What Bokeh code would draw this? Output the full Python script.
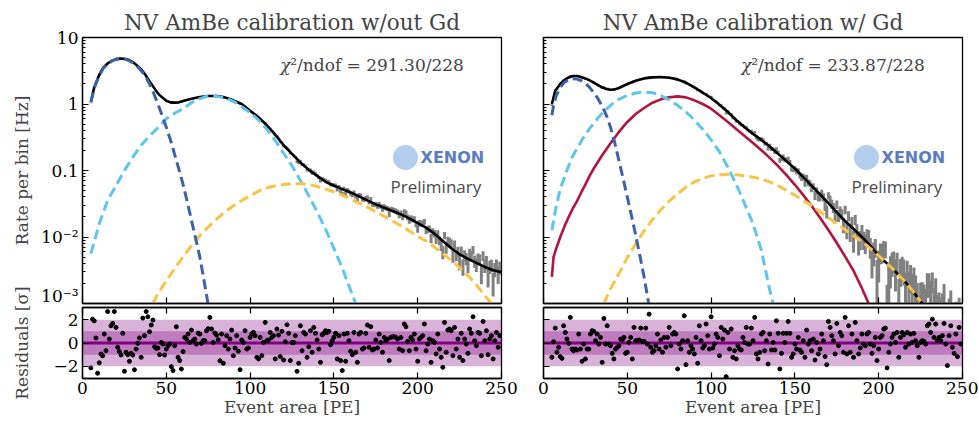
import numpy as np
from bokeh.plotting import figure
from bokeh.layouts import row, column
from bokeh.models import (Range1d, FixedTicker, LinearAxis, Label, BoxAnnotation, Span,
                          CustomJSTickFormatter)
from bokeh.embed import file_html
from bokeh.resources import INLINE

# ------------------------------------------------------------------ data
TITLES = ["NV AmBe calibration w/out Gd", "NV AmBe calibration w/ Gd"]
CHI2 = ["291.30/228", "233.87/228"]
EXPOSURE = [5000.0, 1200.0]   # s, sets the size of the data error bars

# ---- left panel (w/out Gd): curves read as log10(rate [Hz])
L_TOTAL_X = [5, 7, 10, 12.5, 15, 17.5, 20, 22.5, 25, 27.5, 30, 32.5, 35, 37.5, 40, 42.5, 45, 47.5, 50,
             52.5, 55, 57.5, 60, 65, 70, 75, 80, 85, 90, 95, 100, 105, 110, 115, 120, 125, 130, 135,
             140, 145, 150, 155, 160, 165, 170, 175, 180, 185, 190, 195, 200, 205, 210, 215, 220,
             225, 230, 235, 240, 245, 250]
L_TOTAL_LOG = [0.03, 0.25, 0.44, 0.55, 0.61, 0.65, 0.675, 0.685, 0.68, 0.665, 0.63, 0.58, 0.52, 0.44,
               0.34, 0.25, 0.16, 0.10, 0.05, 0.025, 0.02, 0.025, 0.045, 0.08, 0.105, 0.12, 0.12, 0.10,
               0.055, 0.0, -0.10, -0.20, -0.32, -0.46, -0.62, -0.75, -0.88, -0.99, -1.08, -1.17,
               -1.23, -1.28, -1.33, -1.39, -1.45, -1.51, -1.56, -1.61, -1.66, -1.72, -1.79, -1.86,
               -1.95, -2.06, -2.17, -2.26, -2.33, -2.39, -2.45, -2.50, -2.53]
L_DB_X = [5, 7, 10, 12.5, 15, 17.5, 20, 22.5, 25, 27.5, 30, 32.5, 35, 37.5, 40, 42.5, 45, 47.5, 50,
          52.5, 55, 57.5, 60, 62.5, 65, 67.5, 70, 72.5, 75]
L_DB_LOG = [0.03, 0.24, 0.43, 0.54, 0.60, 0.645, 0.67, 0.68, 0.675, 0.655, 0.62, 0.57, 0.50, 0.42,
            0.30, 0.16, 0.0, -0.17, -0.35, -0.54, -0.76, -0.98, -1.21, -1.47, -1.75, -2.02, -2.3,
            -2.65, -3.02]
L_LB_X = [5, 10, 15, 20, 25, 30, 35, 40, 45, 50, 55, 60, 65, 70, 75, 80, 85, 90, 95, 100, 105, 110,
          115, 120, 125, 130, 135, 140, 145, 150, 155, 160, 163]
L_LB_LOG = [-2.25, -1.80, -1.45, -1.23, -1.00, -0.80, -0.62, -0.48, -0.36, -0.22, -0.14, -0.07, 0.02,
            0.08, 0.12, 0.115, 0.09, 0.04, -0.04, -0.13, -0.24, -0.38, -0.55, -0.74, -0.93, -1.15,
            -1.38, -1.62, -1.88, -2.17, -2.47, -2.80, -3.0]
L_OR_X = [42, 45, 50, 55, 60, 65, 70, 75, 80, 85, 90, 95, 100, 105, 110, 115, 120, 125, 130, 135,
          140, 145, 150, 155, 160, 165, 170, 175, 180, 185, 190, 195, 200, 205, 210, 215, 220, 225,
          230, 235, 240, 244]
L_OR_LOG = [-3.0, -2.85, -2.66, -2.47, -2.30, -2.13, -1.98, -1.85, -1.73, -1.62, -1.53, -1.45, -1.38,
            -1.31, -1.26, -1.23, -1.21, -1.20, -1.20, -1.21, -1.24, -1.28, -1.32, -1.37, -1.43,
            -1.49, -1.55, -1.62, -1.69, -1.76, -1.83, -1.91, -1.99, -2.06, -2.15, -2.25, -2.35,
            -2.46, -2.58, -2.72, -2.88, -3.0]
# residuals [sigma], one per 1 PE bin starting at 5 PE
L_RES = [-2.14, 2.05, 1.9, 0.43, -2.6, -1.7, -0.94, -1.1, 0.77, -0.66,
         2.7, 0.34, 1.48, 1.68, 2.7, 1.34, -0.37, -0.74, -1.03, 0.83,
         -2.43, -0.8, -1.0, -1.57, -0.89, -1.03, -2.3, -0.52, -0.03, 0.43,
         -1.23, 2.14, 0.63, 2.7, 2.25, 0.97, 1.54, 1.97, -0.32, -0.46,
         -0.43, -1.0, 0.05, -0.09, -1.03, -0.52, -0.23, -0.09, -2.03, -2.37,
         -0.23, 1.4, -1.23, -1.51, -2.23, -0.74, 0.48, 0.34, 0.77, 0.05,
         1.11, 0.2, 0.34, -0.09, 0.85, 0.77, -0.03, 0.2, 0.2, 1.06,
         1.23, 2.2, 1.2, 0.05, 0.85, 0.68, 0.28, -1.52, 0.77, -1.74,
         -0.23, 0.63, -0.52, 0.34, 1.11, -1.09, -0.43, 0.63, -0.71, -2.29,
         0.26, 0.05, 1.06, -0.52, -0.43, 0.48, 0.77, 0.91, 0.63, -1.23,
         -1.37, 0.48, -1.09, 0.05, 1.77, 0.2, 0.26, 0.91, 0.48, 0.63,
         -1.37, 1.2, 0.68, -1.17, 1.0, -1.46, 0.11, 1.57, 0.83, -1.51,
         0.05, 0.05, 0.63, -2.43, -1.74, 1.48, -0.66, 0.91, 0.77, -1.23,
         -0.32, 1.06, -0.8, 1.34, 0.83, 0.26, -0.52, -1.66, 0.71, 0.83,
         1.06, 0.91, 1.0, -0.15, 0.2, 0.48, 0.83, -1.37, 0.63, -1.51,
         -2.37, 0.77, -1.57, 0.83, 0.2, -0.71, -1.0, 0.91, -0.8, -1.66,
         0.77, 0.91, -0.52, -0.43, 0.83, 1.54, -0.37, 1.4, -0.6, -0.52,
         0.26, -0.43, 0.77, 0.05, -0.8, 0.48, 0.2, 0.34, -1.51, 0.48,
         0.54, 0.54, 0.48, 0.34, -0.52, 0.48, -0.66, 1.63, 1.4, 0.14,
         -0.66, 0.48, 0.26, 0.77, -0.52, -1.57, 0.34, 0.48, 0.63, 1.63,
         -0.66, -0.09, 0.34, -1.66, 0.2, 0.05, -0.94, 0.77, -0.52, -1.23,
         -2.09, 1.77, -0.8, 1.11, 1.2, 1.06, -1.09, 1.34, -0.52, 0.34,
         -1.23, 0.83, -1.51, 0.34, -0.09, -0.89, 1.2, 0.83, 2.25, 0.2,
         -0.23, 0.91, 0.83, -1.09, 1.85, 0.2, 1.06, -1.0, 0.34, 0.63,
         -1.37, 0.2, 0.91, -0.37, 0.63]

# ---- right panel (w/ Gd)
R_TOTAL_X = [5, 7, 10, 12.5, 15, 17.5, 20, 22.5, 25, 27.5, 30, 32.5, 35, 37.5, 40, 42.5, 45, 47.5, 50,
             55, 60, 65, 70, 75, 80, 85, 90, 95, 100, 105, 110, 115, 120, 125, 130, 135, 140, 145,
             150, 155, 160, 165, 170, 175, 180, 185, 190, 195, 200, 205, 210, 215, 220, 225, 230,
             235, 240, 245, 250]
R_TOTAL_LOG = [0.0, 0.20, 0.30, 0.36, 0.40, 0.42, 0.42, 0.405, 0.385, 0.355, 0.32, 0.285, 0.25, 0.225,
               0.215, 0.22, 0.24, 0.27, 0.30, 0.35, 0.385, 0.40, 0.405, 0.395, 0.37, 0.32, 0.25,
               0.17, 0.09, -0.01, -0.12, -0.24, -0.35, -0.45, -0.54, -0.64, -0.75, -0.86, -0.97,
               -1.10, -1.23, -1.36, -1.49, -1.63, -1.76, -1.88, -2.0, -2.13, -2.28, -2.40, -2.52,
               -2.65, -2.80, -2.97, -3.12, -3.27, -3.42, -3.57, -3.72]
R_DB_X = [5, 6, 7.5, 10, 12.5, 15, 17.5, 20, 22.5, 25, 27.5, 30, 32.5, 35, 37.5, 40, 42.5, 45, 47.5,
          50, 52.5, 55, 57.5, 60, 62.5, 63]
R_DB_LOG = [-0.17, -0.02, 0.12, 0.25, 0.33, 0.36, 0.38, 0.375, 0.35, 0.31, 0.25, 0.17, 0.08, -0.03,
            -0.17, -0.35, -0.58, -0.85, -1.12, -1.40, -1.68, -1.97, -2.28, -2.6, -2.96, -3.05]
R_LB_X = [5, 7.5, 10, 12.5, 15, 17.5, 20, 22.5, 25, 27.5, 30, 32.5, 35, 37.5, 40, 42.5, 45, 47.5, 50,
          55, 60, 65, 70, 75, 80, 85, 90, 95, 100, 105, 110, 115, 120, 125, 130, 135, 137]
R_LB_LOG = [-1.90, -1.55, -1.28, -1.10, -0.93, -0.78, -0.67, -0.56, -0.46, -0.37, -0.29, -0.21, -0.14,
            -0.08, -0.02, 0.03, 0.07, 0.10, 0.13, 0.165, 0.18, 0.17, 0.125, 0.06, -0.02, -0.12,
            -0.24, -0.38, -0.54, -0.72, -0.95, -1.21, -1.50, -1.80, -2.2, -2.8, -3.0]
R_RED_X = [5, 6, 7.5, 10, 12.5, 15, 17.5, 20, 22.5, 25, 27.5, 30, 35, 40, 45, 50, 55, 60, 65, 70, 75,
           80, 85, 90, 95, 100, 105, 110, 115, 120, 125, 130, 135, 140, 145, 150, 155, 160, 165,
           170, 175, 180, 185, 190, 194]
R_RED_LOG = [-2.6, -2.3, -2.18, -2.0, -1.84, -1.70, -1.57, -1.46, -1.33, -1.21, -1.08, -0.97, -0.77,
             -0.59, -0.42, -0.27, -0.15, -0.06, 0.02, 0.07, 0.10, 0.115, 0.10, 0.055, 0.0, -0.07,
             -0.17, -0.27, -0.375, -0.48, -0.585, -0.695, -0.81, -0.935, -1.07, -1.215, -1.37,
             -1.535, -1.71, -1.895, -2.09, -2.295, -2.51, -2.77, -3.0]
R_OR_X = [36, 40, 45, 50, 55, 60, 65, 70, 75, 80, 85, 90, 95, 100, 105, 110, 115, 120, 125, 130, 135,
          140, 145, 150, 155, 160, 165, 170, 175, 180, 185, 190, 195, 200, 205, 210, 215, 220, 225]
R_OR_LOG = [-3.0, -2.78, -2.55, -2.31, -2.10, -1.91, -1.74, -1.59, -1.46, -1.35, -1.25, -1.17, -1.12,
            -1.08, -1.065, -1.06, -1.065, -1.08, -1.10, -1.13, -1.17, -1.23, -1.30, -1.37, -1.45,
            -1.53, -1.62, -1.71, -1.80, -1.89, -1.98, -2.07, -2.17, -2.28, -2.40, -2.52, -2.65,
            -2.80, -2.97]
R_RES = [-1.23, 0.11, 1.28, -0.8, -0.37, -1.17, -1.32, 1.48, 0.91, 0.34,
         -0.03, 2.2, -0.52, -0.66, -0.52, -0.6, 0.77, -0.52, -1.57, -0.09,
         -1.37, -0.52, -0.52, 0.77, 1.06, 1.0, 0.2, 0.77, -0.09, 0.48,
         -1.66, 2.11, -0.09, 1.48, -0.09, -0.23, -0.89, -1.37, -0.52, -0.37,
         -0.23, 0.34, 0.26, 0.48, -0.89, -0.8, 0.05, 0.48, -1.37, 1.34,
         0.2, 0.2, 0.26, 1.28, 0.14, 0.14, 1.28, -0.09, 2.48, -0.37,
         -0.8, -0.66, -0.23, 0.77, -0.52, 0.26, -0.8, 0.48, -0.37, 0.48,
         1.34, -0.23, 0.77, 0.91, 0.77, -2.23, -0.09, -0.52, 0.2, 2.34,
         -1.86, 0.2, -0.8, -0.23, -0.52, -0.94, 0.48, -1.74, 1.48, 0.2,
         -0.43, -0.23, 1.63, 0.63, -0.52, 2.25, -0.43, -0.09, 0.77, 0.48,
         -1.09, 1.34, 0.34, 1.11, -2.89, 0.91, -0.52, 1.2, -1.23, -0.66,
         -1.37, -0.23, -0.52, -0.6, 0.48, 0.05, 1.34, -0.09, -0.09, 1.28,
         0.2, 2.2, -0.94, -1.37, -0.8, 0.77, 0.91, -0.66, 0.2, -1.8,
         0.77, -0.6, 0.05, -0.6, 1.91, 0.83, -2.23, -0.89, 0.83, 0.05,
         0.83, 1.85, 0.83, -1.23, -0.94, -0.09, -0.52, 0.48, -0.6, -0.8,
         0.2, -1.23, 1.11, -0.09, 0.2, -0.66, 0.34, -1.46, 0.05, -0.94,
         -0.52, 0.77, 0.2, -1.17, -1.86, 1.85, 1.34, 0.63, 0.2, -0.94,
         1.68, -0.23, 0.91, 0.63, -0.8, 2.2, -0.94, 1.48, -0.8, 0.77,
         -1.23, 1.77, 0.2, -0.94, -0.43, 0.77, -0.09, -0.23, 0.77, 0.91,
         -0.09, -0.89, -0.23, 0.48, -1.51, -0.52, 0.48, 0.63, 1.2, 1.28,
         -2.14, -0.8, -0.09, 0.48, 0.77, 0.05, 0.91, -1.23, 0.48, 0.91,
         0.71, -0.37, 0.91, -0.09, 0.77, 0.05, 0.83, 0.2, -0.23, -1.23,
         0.05, 0.2, 0.14, -0.09, 1.48, 1.63, 0.91, 2.05, 0.48, 1.63,
         0.2, 0.48, 0.2, 0.63, 1.68, -0.09, -1.94, 0.63, 1.48, -0.37,
         -0.89, 0.77, -1.17, 1.34, -0.09]
RES_FIRST_BIN = 5   # PE

XTICKS = [0, 50, 100, 150, 200, 250]
YTICKS = [1e-3, 1e-2, 1e-1, 1, 10]
YTICK_LABELS = ["10\u207b\u00b3", "10\u207b\u00b2", "0.1", "1", "10"]
RTICKS = [-2, 0, 2]
RTICK_LABELS = ["\u22122", "0", "2"]

# ------------------------------------------------------------------ style
SERIF = "DejaVu Serif"
C_DB, C_LB, C_OR, C_RED = "#3d62ad", "#5ec5ee", "#f9c446", "#b5133d"
C_GREY = "#808080"
FRAME_W, MAIN_H, RES_H = 419, 266, 71
TOP_B = 37
GAP = 4
STRIP_W = 38
# borders: (left, right) for [left column, right column]; residual rows need room for "250"
MAIN_BORDERS = [(44, 2), (24, 2)]
RES_BORDERS = [(44, 18), (24, 16)]
MINOR = [m * 10.0 ** e for e in range(-3, 1) for m in range(2, 10)]


def overrides(ticks, labels):
    d = {}
    for t, l in zip(ticks, labels):
        d[t] = l
        d[str(t)] = l
    return d


def style_axis(ax, show_labels, minor=False):
    ax.major_tick_in = 6
    ax.major_tick_out = 0
    ax.minor_tick_in = 3 if minor else 0
    ax.minor_tick_out = 0
    ax.axis_line_color = "black"
    ax.axis_line_width = 1.3
    ax.major_tick_line_color = "black"
    ax.major_tick_line_width = 1.2
    ax.minor_tick_line_color = "black"
    ax.minor_tick_line_width = 1
    if show_labels:
        ax.major_label_text_font = SERIF
        ax.major_label_text_font_size = "17px"
        ax.major_label_text_color = "black"
        ax.major_label_standoff = 4
    else:
        ax.formatter = CustomJSTickFormatter(code="return ''")
        ax.major_label_text_font_size = "0px"
        ax.major_label_standoff = 0


def make_main(i, xr, curves, total, res, first):
    bl, br = MAIN_BORDERS[i]
    p = figure(frame_width=FRAME_W, frame_height=MAIN_H, x_range=xr, y_range=Range1d(1e-3, 10),
               y_axis_type="log", output_backend="svg", toolbar_location=None,
               min_border_left=bl, min_border_right=br,
               min_border_top=TOP_B, min_border_bottom=GAP // 2)
    p.title.text = TITLES[i]
    p.title.text_font = SERIF
    p.title.text_font_size = "21.5px"
    p.title.text_font_style = "normal"
    p.title.align = "center"
    p.title.standoff = 6
    p.outline_line_color = "black"
    p.outline_line_width = 1.3
    p.xgrid.visible = False
    p.ygrid.visible = False

    p.xaxis.ticker = FixedTicker(ticks=XTICKS)
    style_axis(p.xaxis[0], False)
    p.yaxis.ticker = FixedTicker(ticks=YTICKS, minor_ticks=MINOR)
    style_axis(p.yaxis[0], first, minor=True)
    if first:
        p.yaxis.major_label_overrides = overrides(YTICKS, YTICK_LABELS)

    # data derived from the fit and the residuals: data = fit + r * sigma
    tx, tlog = total
    xc = np.arange(RES_FIRST_BIN, RES_FIRST_BIN + len(res))
    model = 10 ** np.interp(xc, tx, tlog)
    sig = np.sqrt(model / EXPOSURE[i])
    data = model + np.array(res) * sig
    ok = data > 0
    lo = np.clip(data - sig, 1e-6, None)
    hi = data + sig
    p.segment(x0=xc[ok], y0=lo[ok], x1=xc[ok], y1=hi[ok], line_color=C_GREY, line_width=3)

    p.line(tx, 10 ** np.array(tlog), line_color="black", line_width=2.6)
    for (cx, clog, col, dashed) in curves:
        if dashed:
            p.line(cx, 10 ** np.array(clog), line_color=col, line_width=3, line_dash="10 5")
        else:
            p.line(cx, 10 ** np.array(clog), line_color=col, line_width=2.6)

    # chi2 text and logo
    p.add_layout(Label(x=118, y=3.83, text="\u03c7", text_font=SERIF, text_font_size="17px",
                       text_font_style="italic", text_baseline="middle"))
    p.add_layout(Label(x=118, y=3.83, x_offset=10, text="\u00b2/ndof = " + CHI2[i], text_font=SERIF,
                       text_font_size="17px", text_baseline="middle"))
    p.scatter([192.7], [0.157], size=25, marker="circle", fill_color="#b3cdef", line_color=None)
    p.add_layout(Label(x=201.7, y=0.157, text="XENON", text_font="DejaVu Sans", text_font_size="16px",
                       text_font_style="bold", text_color="#5a7cc0", text_baseline="middle"))
    p.add_layout(Label(x=183.8, y=0.0575, text="Preliminary", text_font="Open Sans",
                       text_font_size="17px", text_color="#4a4a4a", text_baseline="middle"))
    return p


def make_res(i, xr, res, first):
    bl, br = RES_BORDERS[i]
    r = figure(frame_width=FRAME_W, frame_height=RES_H, x_range=xr, y_range=Range1d(-3.05, 3.05),
               output_backend="svg", toolbar_location=None,
               min_border_left=bl, min_border_right=br,
               min_border_top=GAP - GAP // 2, min_border_bottom=0)
    r.outline_line_color = "black"
    r.outline_line_width = 1.3
    r.xgrid.visible = False
    r.ygrid.visible = False
    r.add_layout(BoxAnnotation(bottom=-2, top=2, fill_color="purple", fill_alpha=0.3,
                               line_color=None, level="underlay"))
    r.add_layout(BoxAnnotation(bottom=-1, top=1, fill_color="purple", fill_alpha=0.3,
                               line_color=None, level="underlay"))
    r.add_layout(Span(location=0, dimension="width", line_color="purple", line_width=3,
                      level="underlay"))
    xc = np.arange(RES_FIRST_BIN, RES_FIRST_BIN + len(res))
    r.scatter(xc, res, size=4, color="black")

    r.xaxis.ticker = FixedTicker(ticks=XTICKS)
    style_axis(r.xaxis[0], True)
    r.xaxis.major_label_standoff = 3
    r.xaxis.axis_label = "Event area [PE]"
    r.xaxis.axis_label_text_font = SERIF
    r.xaxis.axis_label_text_font_size = "17px"
    r.xaxis.axis_label_text_font_style = "normal"
    r.xaxis.axis_label_standoff = 0
    r.yaxis.ticker = FixedTicker(ticks=RTICKS)
    style_axis(r.yaxis[0], first)
    if first:
        r.yaxis.major_label_overrides = overrides(RTICKS, RTICK_LABELS)
    top = LinearAxis(ticker=FixedTicker(ticks=XTICKS))
    style_axis(top, False)
    r.add_layout(top, "above")
    return r


# strip holding the two y-axis titles (spans both panel rows)
STRIP_H = 420
strip = figure(frame_width=STRIP_W, frame_height=STRIP_H, x_range=Range1d(0, STRIP_W),
               y_range=Range1d(STRIP_H, 0), x_axis_location=None, y_axis_location=None, min_border=0,
               outline_line_color=None, output_backend="svg", toolbar_location=None)
strip.grid.visible = False
strip.add_layout(Label(x=21, y=TOP_B + MAIN_H / 2, text="Rate per bin [Hz]", angle=np.pi / 2,
                       text_align="center", text_baseline="middle", text_font=SERIF,
                       text_font_size="17px"))
strip.add_layout(Label(x=21, y=TOP_B + MAIN_H + GAP + RES_H / 2, text="Residuals [\u03c3]",
                       angle=np.pi / 2, text_align="center", text_baseline="middle",
                       text_font=SERIF, text_font_size="17px"))

xr_l = Range1d(0, 250)
xr_r = Range1d(0, 250)
main_l = make_main(0, xr_l,
                   [(L_LB_X, L_LB_LOG, C_LB, True), (L_OR_X, L_OR_LOG, C_OR, True),
                    (L_DB_X, L_DB_LOG, C_DB, True)],
                   (L_TOTAL_X, L_TOTAL_LOG), L_RES, True)
main_r = make_main(1, xr_r,
                   [(R_RED_X, R_RED_LOG, C_RED, False), (R_LB_X, R_LB_LOG, C_LB, True),
                    (R_OR_X, R_OR_LOG, C_OR, True), (R_DB_X, R_DB_LOG, C_DB, True)],
                   (R_TOTAL_X, R_TOTAL_LOG), R_RES, False)
res_l = make_res(0, xr_l, L_RES, True)
res_r = make_res(1, xr_r, R_RES, False)

root = row(strip, column(main_l, res_l), column(main_r, res_r))

open("out.html", "w").write(file_html(root, INLINE))
